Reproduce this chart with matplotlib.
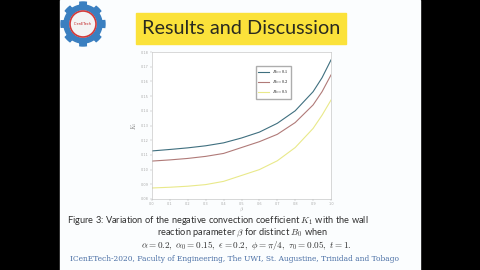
import numpy as np
import matplotlib.pyplot as plt
from matplotlib.patches import Rectangle, Polygon, Circle

plt.rcParams['mathtext.fontset'] = 'cm'

# data
beta = [0.0, 0.1, 0.2, 0.3, 0.4, 0.5, 0.6, 0.7, 0.8, 0.9, 0.95, 1.0]
k1_b01 = [0.1127, 0.1137, 0.1148, 0.1162, 0.1182, 0.1215, 0.1255, 0.1315, 0.1400, 0.1530, 0.1625, 0.1746]
k1_b02 = [0.1058, 0.1066, 0.1076, 0.1090, 0.1110, 0.1150, 0.1190, 0.1240, 0.1320, 0.1440, 0.1530, 0.1644]
k1_b05 = [0.0875, 0.0880, 0.0887, 0.0898, 0.0920, 0.0960, 0.1000, 0.1060, 0.1150, 0.1280, 0.1370, 0.1473]
labels = [r'$B_0 = 0.1$', r'$B_0 = 0.2$', r'$B_0 = 0.5$']
colors = ['#3f6f7f', '#b07a78', '#e9e98a']
xticks = [0.0, 0.1, 0.2, 0.3, 0.4, 0.5, 0.6, 0.7, 0.8, 0.9, 1.0]
yticks = [0.08, 0.09, 0.10, 0.11, 0.12, 0.13, 0.14, 0.15, 0.16, 0.17, 0.18]

W, H = 480, 270
fig = plt.figure(figsize=(4.8, 2.7), dpi=100)
fig.patch.set_facecolor('black')

# slide background
bg = fig.add_axes([0, 0, 1, 1])
bg.set_xlim(0, W)
bg.set_ylim(H, 0)
bg.axis('off')
bg.add_patch(Rectangle((60, 0), 360, H, color='#fbfdfe', zorder=0))

# title box
bg.add_patch(Rectangle((136, 13), 210, 31, color='#fbe23a', zorder=1))
bg.text(241, 29, 'Results and Discussion', ha='center', va='center',
        fontsize=14.3, family='Lato', color='#2a2a20', zorder=2)

# logo (gear)
cx, cy = 83, 24
ang = np.linspace(0, 2 * np.pi, 400)
rr = 19 + 3 * (np.cos(8 * ang) > 0.3)
bg.add_patch(Polygon(np.c_[cx + rr * np.cos(ang), cy + rr * np.sin(ang)],
                     color='#3a7fc0', zorder=1))
bg.add_patch(Circle((cx, cy), 13, color='#f4f4f4', zorder=2))
bg.add_patch(Circle((cx, cy), 13, fill=False, ec='#d23a3a', lw=1.2, zorder=3))
bg.text(cx, cy, 'ICenETech', fontsize=2.5, color='#c02020', ha='center', va='center', zorder=4)

# caption
cap = dict(fontsize=6.7, family='Lato', color='#303030')
bg.text(67, 220.5, r'Figure 3: Variation of the negative convection coefficient $K_1$ with the wall',
        ha='left', va='center', **cap)
bg.text(242, 233, r'reaction parameter $\beta$ for distinct $B_0$ when', ha='center', va='center', **cap)
bg.text(246, 245.5, r'$\alpha = 0.2,\ \alpha_0 = 0.15,\ \epsilon = 0.2,\ \phi = \pi/4,\ \tau_0 = 0.05,\ t = 1.$',
        ha='center', va='center', fontsize=6.6, color='#303030')
bg.text(234, 259, 'ICenETech-2020, Faculty of Engineering, The UWI, St. Augustine, Trinidad and Tobago',
        ha='center', va='center', fontsize=5.4, family='DejaVu Serif', color='#4a6fa5')

# chart
ax = fig.add_axes([152 / W, 1 - 199 / H, (331 - 152) / W, (199 - 52) / H])
ax.set_facecolor('white')
for y, lab, c in zip([k1_b01, k1_b02, k1_b05], labels, colors):
    ax.plot(beta, y, color=c, lw=0.8, label=lab)
ax.set_xlim(0, 1)
ax.set_ylim(0.08, 0.18)
ax.set_xticks(xticks)
ax.set_yticks(yticks)
ax.tick_params(labelsize=2.5, colors='#aaaaaa', length=1.5, width=0.3, pad=1)
for s in ax.spines.values():
    s.set_color('#bbbbbb')
    s.set_linewidth(0.4)
ax.set_xlabel(r'$\beta$', fontsize=3.5, color='#777777')
ax.xaxis.set_label_coords(0.5, -0.045)
ax.set_ylabel(r'$K_1$', fontsize=4, color='#777777', labelpad=1)
ax.legend(loc='upper right', bbox_to_anchor=(0.79, 0.92), fontsize=3, frameon=True,
          fancybox=False, edgecolor='#999999', handlelength=2.5, borderpad=0.6, labelspacing=0.6)

fig.savefig('out.png', dpi=100, facecolor=fig.get_facecolor())
